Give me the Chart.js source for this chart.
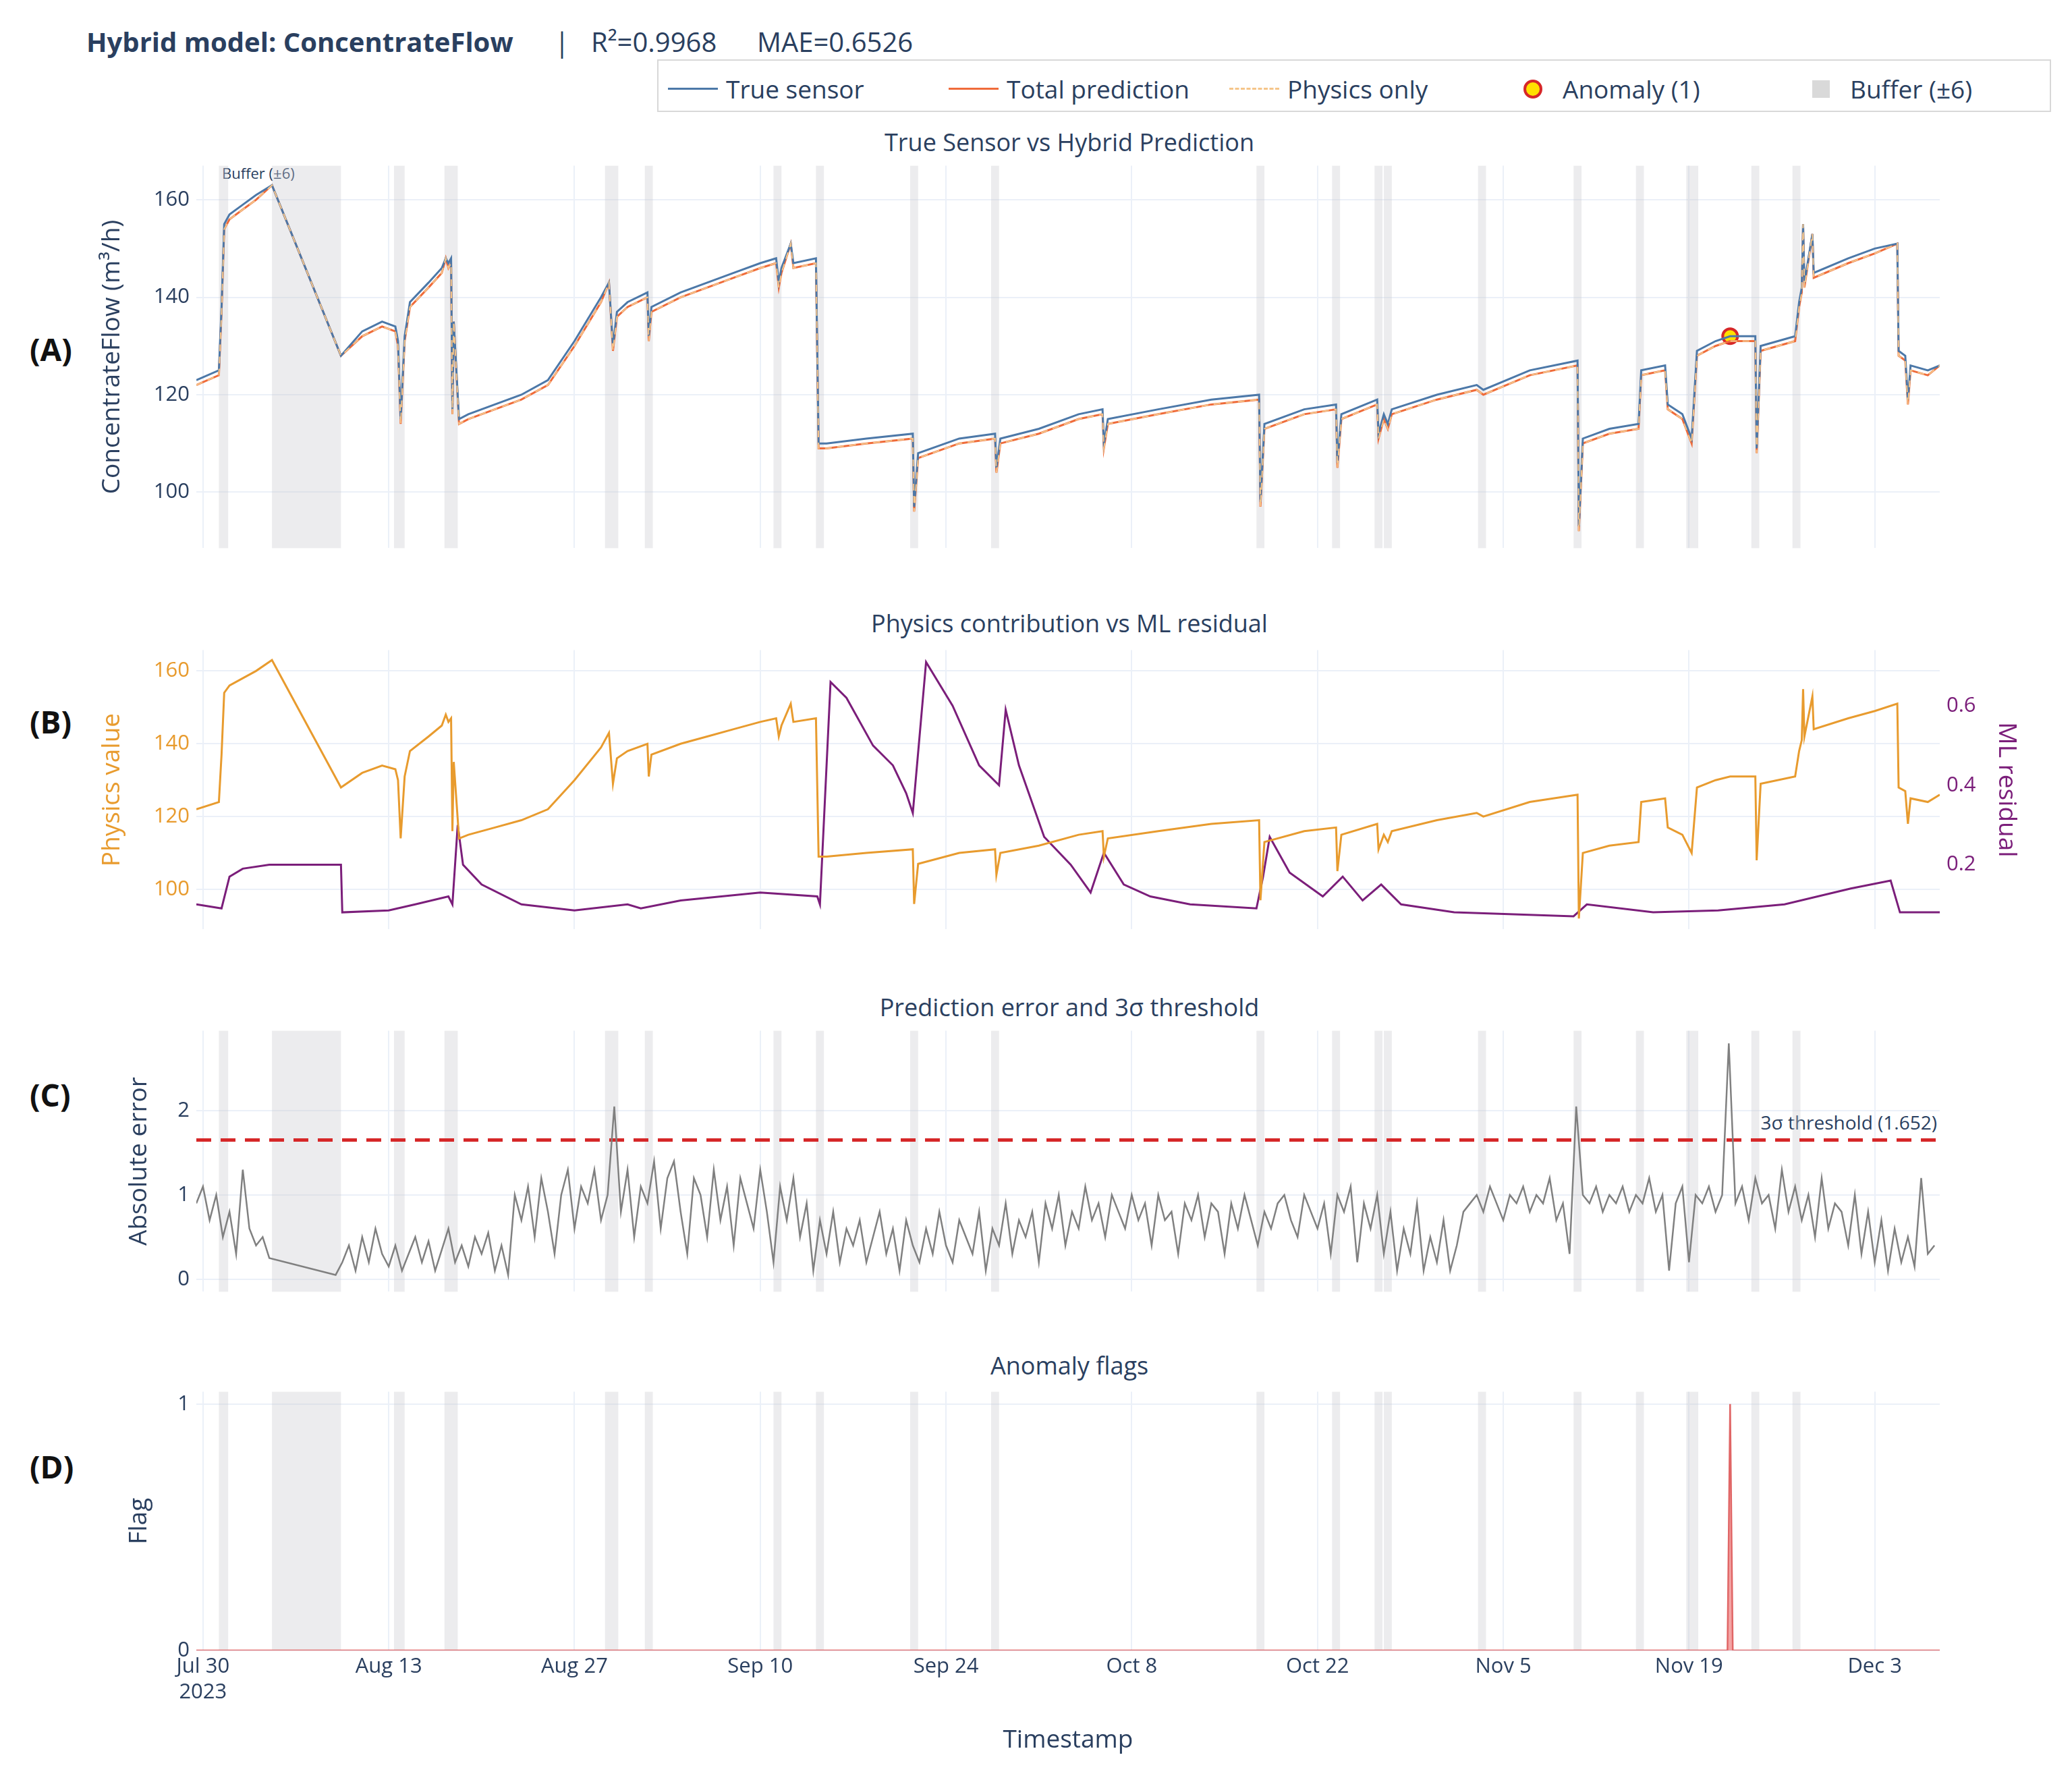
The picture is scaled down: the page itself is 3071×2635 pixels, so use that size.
<!DOCTYPE html>
<html>
<head>
<meta charset="utf-8">
<script src="https://cdn.jsdelivr.net/npm/chart.js@4.4.1/dist/chart.umd.min.js"></script>
<style>
  body { margin:0; background:#fff; width:3071px; height:2635px; position:relative; overflow:hidden;
         font-family:"Open Sans", sans-serif; color:#2a3f5f; }
  canvas { position:absolute; }
  .t { position:absolute; white-space:nowrap; }
  .sub { position:absolute; font-size:36px; transform:translateX(-50%); left:1585px; }
  .pl { position:absolute; font-size:46px; font-weight:bold; color:#111; left:44px; }
  .leg { position:absolute; left:974px; top:88px; width:2066px; height:78px; border:2px solid #d8d8d8; box-sizing:border-box; }
  .li { position:absolute; top:16px; font-size:37px; display:flex; align-items:center; }
</style>
</head>
<body>
<div class="t" style="left:128px;top:34px;font-size:40px;"><b>Hybrid model: ConcentrateFlow</b></div>
<div class="t" style="left:822px;top:34px;font-size:40px;">|</div>
<div class="t" style="left:876px;top:34px;font-size:40px;">R²=0.9968</div>
<div class="t" style="left:1122px;top:34px;font-size:40px;">MAE=0.6526</div>
<div class="leg">
  <div class="li" style="left:14px"><span style="display:inline-block;width:74px;height:3px;background:#4C78A8;margin-right:12px"></span>True sensor</div>
  <div class="li" style="left:430px"><span style="display:inline-block;width:74px;height:3px;background:#EF6B3A;margin-right:12px"></span>Total prediction</div>
  <div class="li" style="left:846px"><span style="display:inline-block;width:74px;height:0;border-top:3px dashed #F5C58A;margin-right:12px"></span>Physics only</div>
  <div class="li" style="left:1282px"><span style="display:inline-block;width:20px;height:20px;border-radius:50%;background:#FFE000;border:4px solid #D62728;margin-right:30px"></span>Anomaly (1)</div>
  <div class="li" style="left:1710px"><span style="display:inline-block;width:26px;height:26px;background:#d9d9d9;margin-right:30px"></span>Buffer (±6)</div>
</div>

<div class="sub" style="top:186px">True Sensor vs Hybrid Prediction</div>
<div class="sub" style="top:899px">Physics contribution vs ML residual</div>
<div class="sub" style="top:1468px">Prediction error and 3σ threshold</div>
<div class="sub" style="top:1999px">Anomaly flags</div>
<div class="pl" style="top:486px">(A)</div>
<div class="pl" style="top:1038px">(B)</div>
<div class="pl" style="top:1591px">(C)</div>
<div class="pl" style="top:2142px">(D)</div>
<div class="t" style="left:329px;top:241px;font-size:22px;">Buffer (±6)</div>
<div class="t" style="right:200px;top:1644px;font-size:28px;">3σ threshold (1.652)</div>

<canvas id="cA" width="2921" height="624" style="left:140px;top:217px;width:2921px;height:624px"></canvas>
<canvas id="cB" width="2860" height="471" style="left:140px;top:935px;width:2860px;height:471px"></canvas>
<canvas id="cC" width="2881" height="444" style="left:180px;top:1499px;width:2881px;height:444px"></canvas>
<canvas id="cD" width="2881" height="572" style="left:180px;top:2034px;width:2881px;height:572px"></canvas>

<script>
// x values are days after 2023-07-30 00:00
const xTickDays = [0, 14, 28, 42, 56, 70, 84, 98, 112, 126];
const xTickLabels = ['Jul 30', 'Aug 13', 'Aug 27', 'Sep 10', 'Sep 24', 'Oct 8', 'Oct 22', 'Nov 5', 'Nov 19', 'Dec 3'];

// buffer bands [start, end] in days
const bufferBands = [[1.2,1.9],[5.2,10.4],[14.4,15.2],[18.2,19.2],[30.3,31.3],[33.3,33.9],[43.0,43.6],[46.2,46.8],
  [53.3,53.9],[59.4,60.0],[79.4,80.0],[85.1,85.7],[88.3,88.9],[89.0,89.6],[96.1,96.7],[103.3,103.9],[108.0,108.6],
  [111.8,112.7],[116.7,117.3],[119.8,120.4]];

const flowDays = [-0.5,1.2,1.4,1.6,2,3,4,5.2,10.4,12, 13.5,14.5,14.7,14.9,15.2,15.6,17,18,18.3,18.5,
  18.7,18.8,18.9,19.3,20,22,24,26,28,30, 30.6,30.9,31.2,32,33.5,33.6,33.8,36,38,40,
  42,43.2,43.4,43.6,44.3,44.5,46.2,46.4,47,50, 53.5,53.6,53.9,57,59.7,59.8,60.1,63,66,67.8,
  67.9,68.2,72,76,79.6,79.7,80,83,85.4,85.5, 85.8,88.5,88.6,89,89.3,89.6,93,96,96.5,100,
  103.6,103.7,104,106,108.2,108.4,110.2,110.4,111.5,112.2, 112.6,114,115.1,117,117.1,117.4,120,120.3,120.5,120.6,
  120.7,121.3,121.4,124,126,127.7,127.8,128.3,128.5,128.7, 130,130.9];
const predictionVals = [122,124,137,154,156,158,160,163,128,132, 134,133,130,114,131,138,142,145,148,146,
  147,116,135,114,115,117,119,122,130,139, 143,129,136,138,140,131,137,140,142,144,
  146,147,142,145,151,146,147,109,109,110, 111,96,107,110,111,104,110,112,115,116,
  109,114,116,118,119,97,113,116,117,105, 115,118,111,115,113,116,119,121,120,124,
  126,92,110,112,113,124,125,117,115,110, 128,130,131,131,108,129,131,138,141,155,
  142,153,144,147,149,151,128,127,118,125, 124,126];
const trueVals = [123,125,138,155,157,159,161,163,128,133, 135,134,131,115,132,139,143,146,148,147,
  148,117,135,115,116,118,120,123,131,140, 143,130,137,139,141,132,138,141,143,145,
  147,148,143,146,151,147,148,110,110,111, 112,97,108,111,112,105,111,113,116,117,
  110,115,117,119,120,98,114,117,118,106, 116,119,112,116,114,117,120,122,121,125,
  127,93,111,113,114,125,126,118,116,111, 129,131,132,132,109,130,132,139,142,155,
  143,153,145,148,150,151,129,128,119,126, 125,126];

const anomalyDay = 115.1, anomalyVal = 132;

const residDays = [-0.5,1.4,2,3,5,10.4,10.5,14,16,18.5,18.8,19.2,19.6,21,24,28,32,33,36,42,46.3,46.5,47.3,48.5,50.5,52,53,53.5,
  54.5,56.5,58.5,60,60.5,61.5,63.4,65.4,66.9,67.9,69.4,71.4,74.4,79.4,79.9,80.4,81.9,84.4,85.9,87.4,88.8,90.3,94.3,
  103.3,104.3,109.3,114.2,119.2,124.2,127.2,127.9,130.9];
const residVals = [0.10,0.09,0.17,0.19,0.20,0.20,0.08,0.085,0.10,0.12,0.10,0.30,0.20,0.15,0.10,0.085,0.10,0.09,0.11,0.13,0.12,0.10,0.66,0.62,0.50,0.45,0.38,0.33,
  0.71,0.60,0.45,0.40,0.59,0.45,0.27,0.20,0.13,0.23,0.15,0.12,0.10,0.09,0.17,0.27,0.18,0.12,0.17,0.11,0.15,0.10,0.08,
  0.07,0.10,0.08,0.085,0.10,0.14,0.16,0.08,0.08];

// absolute error every half day from day -0.5
const errStart = -0.5, errStep = 0.5;
const errVals = [0.9,1.1,0.7,1.0,0.5,0.8,0.3,1.3,0.6,0.4,
  0.5,0.25,null,null,null,null,null,null,null,null,
  null,0.05,0.2,0.4,0.1,0.5,0.2,0.6,0.3,0.15,
  0.4,0.1,0.3,0.5,0.2,0.45,0.1,0.35,0.6,0.2,
  0.4,0.15,0.5,0.3,0.55,0.1,0.4,0.05,1.0,0.7,
  1.1,0.5,1.2,0.8,0.3,1.0,1.3,0.6,1.1,0.9,
  1.3,0.7,1.0,2.05,0.8,1.3,0.5,1.1,0.9,1.4,
  0.6,1.2,1.4,0.8,0.3,1.2,1.0,0.5,1.3,0.7,
  1.1,0.4,1.2,0.9,0.6,1.3,0.8,0.2,1.1,0.7,
  1.2,0.5,0.9,0.1,0.7,0.3,0.8,0.2,0.6,0.4,
  0.7,0.2,0.5,0.8,0.3,0.6,0.1,0.7,0.4,0.2,
  0.6,0.3,0.8,0.4,0.2,0.7,0.5,0.3,0.8,0.1,
  0.6,0.4,0.9,0.3,0.7,0.5,0.8,0.2,0.9,0.6,
  1.0,0.4,0.8,0.6,1.1,0.7,0.9,0.5,1.0,0.8,
  0.6,1.0,0.7,0.9,0.4,1.0,0.7,0.8,0.3,0.9,
  0.7,1.0,0.5,0.9,0.8,0.3,0.9,0.6,1.0,0.7,
  0.4,0.8,0.6,0.9,1.0,0.7,0.5,1.0,0.8,0.6,
  0.9,0.3,1.0,0.8,1.1,0.2,0.9,0.6,1.0,0.3,
  0.8,0.1,0.6,0.3,0.9,0.1,0.5,0.2,0.7,0.1,
  0.4,0.8,0.9,1.0,0.8,1.1,0.9,0.7,1.0,0.9,
  1.1,0.8,1.0,0.9,1.2,0.7,0.9,0.3,2.05,1.0,
  0.9,1.1,0.8,1.0,0.9,1.1,0.8,1.0,0.9,1.2,
  0.8,1.0,0.1,0.9,1.1,0.2,1.0,0.9,1.1,0.8,
  1.0,2.8,0.9,1.1,0.7,1.2,0.9,1.0,0.6,1.3,
  0.8,1.1,0.7,1.0,0.5,1.2,0.6,0.9,0.8,0.4,
  1.0,0.3,0.8,0.2,0.7,0.1,0.6,0.2,0.5,0.15,
  1.2,0.3,0.4];
const threshold = 1.652;

const flagDays = [-0.5, 114.9, 115.1, 115.3, 130.9];
const flagVals = [0, 0, 1, 0, 0];

const X_MIN = -0.5, X_MAX = 130.9;
const TXT = '#2a3f5f', GRID = '#ebf0f8', FONT = 'Open Sans';
Chart.defaults.font.family = FONT;
Chart.defaults.color = TXT;

const pairs = (xs, ys) => xs.map((x, i) => ({ x: x, y: ys[i] }));

const bandPlugin = {
  id: 'bands',
  beforeDatasetsDraw(chart) {
    const { ctx, chartArea, scales } = chart;
    ctx.save();
    ctx.fillStyle = 'rgba(200,200,205,0.35)';
    bufferBands.forEach(b => {
      const x0 = scales.x.getPixelForValue(b[0]), x1 = scales.x.getPixelForValue(b[1]);
      ctx.fillRect(x0, chartArea.top, x1 - x0, chartArea.bottom - chartArea.top);
    });
    ctx.restore();
  }
};

function xScale(showTicks) {
  return {
    type: 'linear', min: X_MIN, max: X_MAX,
    grid: { color: GRID, lineWidth: 2, drawTicks: false },
    border: { display: false },
    afterBuildTicks: s => { s.ticks = xTickDays.map(v => ({ value: v })); },
    afterFit: s => { s.height = showTicks ? 160 : 10; },
    ticks: {
      display: showTicks, font: { size: 31 }, padding: 6, maxRotation: 0,
      callback: v => { const i = xTickDays.indexOf(v); return i === 0 ? [xTickLabels[0], '2023'] : xTickLabels[i]; }
    },
    title: { display: showTicks, text: 'Timestamp', font: { size: 37 }, padding: { top: 0 } }
  };
}

function yScale(opts) {
  return {
    position: opts.position || 'left', min: opts.min, max: opts.max,
    grid: { display: opts.grid !== false, color: GRID, lineWidth: 2, drawTicks: false },
    border: { display: false },
    afterFit: s => { s.width = opts.width; },
    ticks: { stepSize: opts.step, includeBounds: false, font: { size: 31 }, color: opts.color || TXT, padding: 10 },
    title: { display: true, text: opts.title, font: { size: 37 }, color: opts.color || TXT }
  };
}

function baseOptions(scales, padTop, padRight) {
  return {
    responsive: false, animation: false, devicePixelRatio: 1,
    layout: { padding: { top: padTop, right: padRight, left: 0, bottom: 0 } },
    plugins: { legend: { display: false }, tooltip: { enabled: false } },
    elements: { point: { radius: 0 }, line: { tension: 0 } },
    scales: scales
  };
}

new Chart(document.getElementById('cA'), {
  type: 'line',
  data: { datasets: [
    { data: pairs(flowDays, predictionVals), borderColor: '#F5C58A', borderWidth: 2, borderDash: [10, 8] },
    { data: pairs(flowDays, trueVals), borderColor: '#4C78A8', borderWidth: 3 },
    { data: pairs(flowDays, predictionVals), borderColor: '#EF6B3A', borderWidth: 3 },
    { type: 'scatter', data: [{ x: anomalyDay, y: anomalyVal }], pointRadius: 11, pointBackgroundColor: '#FFE000',
      pointBorderColor: '#D62728', pointBorderWidth: 4 }
  ] },
  options: baseOptions({ x: xScale(false), y: yScale({ min: 88.5, max: 167, step: 20, width: 151, title: 'ConcentrateFlow (m³/h)' }) }, 12, 186),
  plugins: [bandPlugin]
});

new Chart(document.getElementById('cB'), {
  type: 'line',
  data: { datasets: [
    { data: pairs(flowDays, predictionVals), borderColor: '#E89B2E', borderWidth: 3, yAxisID: 'y' },
    { data: pairs(residDays, residVals), borderColor: '#7B1E7A', borderWidth: 3, yAxisID: 'y2' }
  ] },
  options: baseOptions({
    x: xScale(false),
    y: yScale({ min: 89, max: 165.7, step: 20, width: 151, title: 'Physics value', color: '#E89B2E' }),
    y2: yScale({ position: 'right', min: 0.037, max: 0.74, step: 0.2, width: 125, title: 'ML residual', color: '#7B1E7A', grid: false })
  }, 14, 0)
});

new Chart(document.getElementById('cC'), {
  type: 'line',
  data: { datasets: [
    { data: errVals.map((v, i) => ({ x: errStart + i * errStep, y: v })), borderColor: '#808080', borderWidth: 2.5, spanGaps: true },
    { data: [{ x: X_MIN, y: threshold }, { x: X_MAX, y: threshold }], borderColor: '#D62728', borderWidth: 5, borderDash: [22, 14] }
  ] },
  options: baseOptions({ x: xScale(false), y: yScale({ min: -0.15, max: 2.95, step: 1, width: 111, title: 'Absolute error' }) }, 20, 186),
  plugins: [bandPlugin]
});

new Chart(document.getElementById('cD'), {
  type: 'line',
  data: { datasets: [
    { data: pairs(flagDays, flagVals), borderColor: '#E06666', borderWidth: 2.5, fill: 'origin',
      backgroundColor: 'rgba(235,90,90,0.55)' }
  ] },
  options: baseOptions({ x: xScale(true), y: yScale({ min: 0, max: 1.05, step: 1, width: 111, title: 'Flag' }) }, 14, 186),
  plugins: [bandPlugin]
});
</script>
</body>
</html>
